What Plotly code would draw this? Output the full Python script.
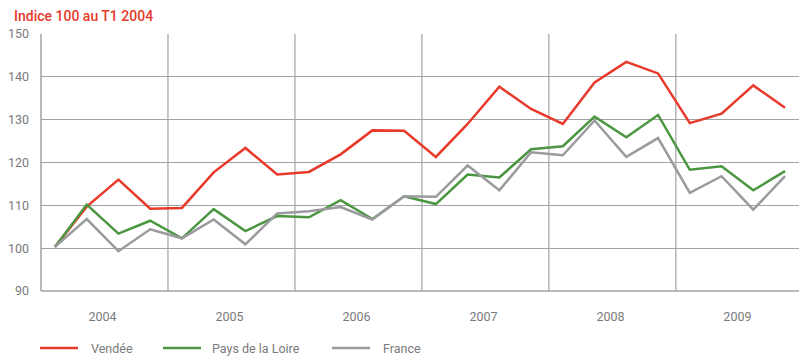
import plotly.graph_objects as go

# Quarterly index, base 100 = Q1 2004
quarters = list(range(24))
years = ["2004", "2005", "2006", "2007", "2008", "2009"]

vendee = [100.3, 109.7, 116.0, 109.2, 109.4, 117.7, 123.4, 117.2,
          117.8, 121.9, 127.5, 127.4, 121.3, 129.0, 137.7, 132.5,
          129.0, 138.7, 143.5, 140.8, 129.2, 131.4, 138.0, 132.8]
pays_loire = [100.3, 110.2, 103.4, 106.4, 102.3, 109.1, 104.0, 107.5,
              107.2, 111.2, 106.8, 112.1, 110.3, 117.2, 116.5, 123.1,
              123.8, 130.7, 125.9, 131.1, 118.3, 119.1, 113.5, 118.0]
france = [100.3, 106.8, 99.3, 104.4, 102.3, 106.7, 100.9, 108.1,
          108.6, 109.6, 106.7, 112.1, 112.0, 119.3, 113.5, 122.4,
          121.7, 129.8, 121.3, 125.7, 112.9, 116.8, 109.0, 116.8]

RED = "#e8392a"
GREEN = "#4b9640"
GREY = "#9b9a9e"
GRID = "#a3a3a6"
TEXT = "#7a7a7c"

series = [("Vendée", vendee, RED),
          ("Pays de la Loire", pays_loire, GREEN),
          ("France", france, GREY)]

W, H = 799, 356
L, R, T, B = 41, 0, 34, 65
pw, ph = W - L - R, H - T - B


def px_x(p):
    return (p - L) / pw


def px_y(p):
    return (H - B - p) / ph


fig = go.Figure()
for name, vals, col in series:
    fig.add_trace(go.Scatter(x=quarters, y=vals, mode="lines", name=name,
                             line=dict(color=col, width=2.5), showlegend=False))

shapes = []
# Year separators
for k in range(1, 6):
    shapes.append(dict(type="line", xref="x", yref="paper",
                       x0=4 * k - 0.44, x1=4 * k - 0.44, y0=0, y1=1,
                       line=dict(color=GRID, width=1.2), layer="below"))
# Left and bottom frame
shapes.append(dict(type="line", xref="paper", yref="paper", x0=0, x1=0, y0=0, y1=1,
                   line=dict(color=GRID, width=1.5), layer="below"))
shapes.append(dict(type="line", xref="paper", yref="paper", x0=0, x1=1, y0=0, y1=0,
                   line=dict(color=GRID, width=1.5), layer="below"))

annotations = [dict(text="Indice 100 au T1 2004", xref="paper", yref="paper",
                    x=px_x(12), y=px_y(16), xanchor="left", yanchor="middle",
                    showarrow=False,
                    font=dict(size=14, color=RED, weight=500))]

# Legend row below the chart
legend_pos = [(40, 89), (163, 210), (332, 381)]
ly = px_y(348)
for (name, _, col), (lx, tx) in zip(series, legend_pos):
    shapes.append(dict(type="line", xref="paper", yref="paper",
                       x0=px_x(lx), x1=px_x(lx + 38), y0=ly, y1=ly,
                       line=dict(color=col, width=2.5)))
    annotations.append(dict(text=name, xref="paper", yref="paper",
                            x=px_x(tx), y=ly, xanchor="left", yanchor="middle",
                            showarrow=False, font=dict(size=12.5, color=TEXT)))

fig.update_layout(
    width=W, height=H,
    margin=dict(l=L, r=R, t=T, b=B, autoexpand=False),
    paper_bgcolor="white", plot_bgcolor="white",
    font=dict(family="Roboto, Open Sans, sans-serif", size=12, color=TEXT),
    showlegend=False,
    xaxis=dict(range=[-0.44, 23.44], tickmode="array",
               tickvals=[1.5 + 4 * i for i in range(6)], ticktext=years,
               showgrid=False, zeroline=False, showline=False, ticks="",
               ticklabelstandoff=16, tickfont=dict(size=12.5, color=TEXT)),
    yaxis=dict(range=[90, 150], dtick=10, showgrid=True, gridcolor=GRID,
               gridwidth=1.2, zeroline=False, showline=False, ticks="",
               ticklabelstandoff=11, tickfont=dict(size=12.5, color=TEXT)),
    shapes=shapes,
    annotations=annotations,
)

fig.write_html("out.html")
